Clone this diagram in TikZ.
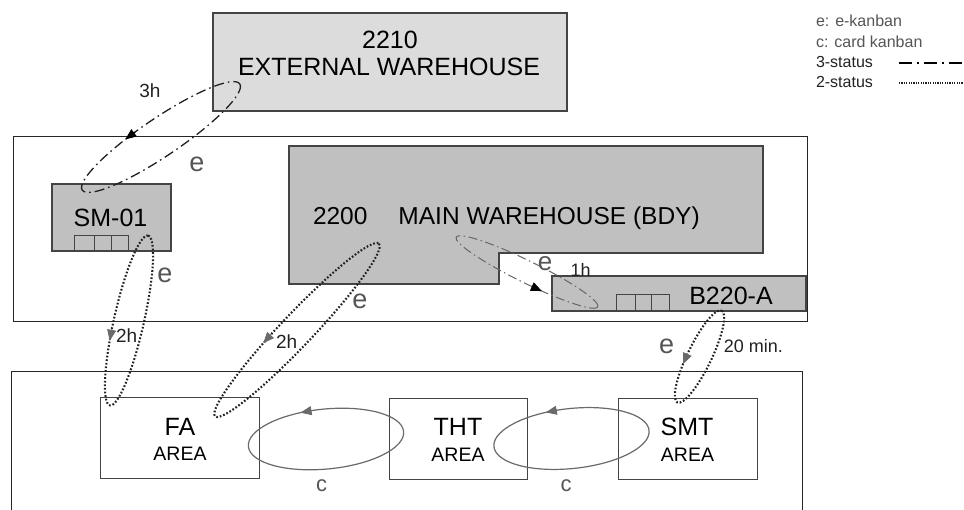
\documentclass[tikz,border=0pt]{standalone}
\usepackage{fontspec}
\setmainfont{Liberation Sans}
\usetikzlibrary{arrows.meta}
\definecolor{boxfill}{HTML}{C0C0C0}
\definecolor{extfill}{HTML}{DCDCDC}
\definecolor{edge}{HTML}{444444}
\definecolor{lbl}{HTML}{555555}
\definecolor{cardcol}{HTML}{6A6A6A}
\definecolor{dark}{HTML}{222222}
\newcommand{\myfs}[1]{\fontsize{#1pt}{#1pt}\selectfont}
\begin{document}
\begin{tikzpicture}[x=1pt,y=-1pt,
 txt/.style={inner sep=0pt, outer sep=0pt},
 outerframe/.style={draw=black!85, line width=0.9pt},
 whbox/.style={draw=edge, line width=1.1pt, fill=boxfill, inner sep=0pt, outer sep=0pt},
 extbox/.style={draw=edge, line width=1.1pt, fill=extfill, inner sep=0pt, outer sep=0pt},
 areabox/.style={draw=edge, line width=1pt, inner sep=0pt, outer sep=0pt},
 cellline/.style={draw=edge, line width=1pt},
 threestat/.style={draw=dark, line width=1.3pt, dash pattern=on 10pt off 4pt on 1.6pt off 4pt},
 threestatlight/.style={draw=black!60, line width=1pt, dash pattern=on 9pt off 3.5pt on 1.5pt off 3.5pt},
 twostat/.style={draw=dark, line width=2.1pt, dash pattern=on 1.7pt off 1.9pt},
 cardloop/.style={draw=cardcol, line width=1.2pt},
 tipblack/.style={draw=black, line width=0.8pt, -{Triangle[length=11pt,width=9pt]}},
 tipgray/.style={draw=cardcol, line width=0.8pt, -{Triangle[length=11pt,width=9pt]}},
 boxtext/.style={txt, anchor=base, font=\myfs{25}},
 areatext/.style={txt, anchor=base, font=\myfs{19.5}},
 elabel/.style={txt, anchor=base, text=lbl, font=\myfs{27}},
 clabel/.style={txt, anchor=base, text=lbl, font=\myfs{22}},
 tlabel/.style={txt, anchor=base, text=dark, font=\myfs{19}},
 legtext/.style={txt, anchor=base west, font=\myfs{16}},
 legdash/.style={draw=black, line width=1.8pt, dash pattern=on 13pt off 5pt on 2pt off 5pt},
 legdot/.style={draw=dark, line width=1.5pt, dash pattern=on 1.2pt off 1.2pt}
]
\useasboundingbox (0,0) rectangle (964,509);
\fill[white] (0,0) rectangle (964,509);

% frames
\draw[outerframe] (13,136) rectangle (807,321);
\draw[outerframe] (11,520) -- (11,371) -- (802,371) -- (802,520);

% external warehouse
\node[extbox, minimum width=354pt, minimum height=98pt] (ext) at (390,62) {};
\node[boxtext] (extnum) at (390,48.5) {2210};
\node[boxtext] (extname) at (389,75) {EXTERNAL WAREHOUSE};

% main warehouse
\draw[whbox] (289,146) -- (763,146) -- (763,253) -- (499,253) -- (499,284) -- (289,284) -- cycle;
\node[txt, anchor=base west, font=\myfs{24.5}] (mainname) at (313,224) {2200\hspace{31pt}MAIN WAREHOUSE (BDY)};

% SM-01
\node[whbox, minimum width=119pt, minimum height=67pt] (sm) at (111.5,217.5) {};
\node[boxtext] (smtext) at (110.5,226.7) {SM-01};
\draw[cellline] (74,235) rectangle (128,251);
\draw[cellline] (94,235) -- (94,251);
\draw[cellline] (111,235) -- (111,251);

% B220-A
\node[whbox, minimum width=254pt, minimum height=35pt] (bloc) at (679,293.5) {};
\node[boxtext] (bloctext) at (731,304.3) {B220-A};
\draw[cellline] (616,294) rectangle (669,311);
\draw[cellline] (635,294) -- (635,311);
\draw[cellline] (651,294) -- (651,311);

% areas
\node[areabox, minimum width=159pt, minimum height=81pt] (fa) at (179.5,437.5) {};
\node[boxtext] (fat) at (180,435) {FA};
\node[areatext] (faa) at (180,460.7) {AREA};
\node[areabox, minimum width=138pt, minimum height=81pt] (tht) at (458,438.5) {};
\node[boxtext] (thtt) at (458,435) {THT};
\node[areatext] (thta) at (458,461.5) {AREA};
\node[areabox, minimum width=139pt, minimum height=81pt] (smt) at (687.5,438.5) {};
\node[boxtext] (smtt) at (687,435) {SMT};
\node[areatext] (smta) at (687.5,461.5) {AREA};

% 3-status loop: external -> SM-01
\begin{scope}[shift={(161,137)}, rotate=34]
 \draw[threestat] (0,0) ellipse [x radius=95, y radius=19];
 \draw[tipblack] ({95*cos(259)},{19*sin(259)}) -- ({95*cos(251)},{19*sin(251)});
\end{scope}
% 3-status loop: main -> B220-A
\begin{scope}[shift={(527,272)}, rotate=-26.2]
 \draw[threestatlight] (0,0) ellipse [x radius=79, y radius=11];
 \draw[tipblack] ({79*cos(82)},{11*sin(82)}) -- ({79*cos(74)},{11*sin(74)});
\end{scope}
% 2-status loop: SM-01 -> FA
\begin{scope}[shift={(129,320.5)}, rotate=77.3]
 \draw[twostat] (0,0) ellipse [x radius=87, y radius=15];
 \draw[tipgray] ({87*cos(262)},{15*sin(262)}) -- ({87*cos(254)},{15*sin(254)});
\end{scope}
% 2-status loop: main -> FA
\begin{scope}[shift={(297,330)}, rotate=46.5]
 \draw[twostat] (0,0) ellipse [x radius=119, y radius=16];
 \draw[tipgray] ({119*cos(260)},{16*sin(260)}) -- ({119*cos(254)},{16*sin(254)});
\end{scope}
% 2-status loop: B220-A -> SMT
\begin{scope}[shift={(699.5,356.5)}, rotate=64.2]
 \draw[twostat] (0,0) ellipse [x radius=51, y radius=12];
 \draw[tipgray] ({51*cos(267)},{12*sin(267)}) -- ({51*cos(254)},{12*sin(254)});
\end{scope}
% card loops
\begin{scope}[shift={(326,439)}, rotate=5.5]
 \draw[cardloop] (0,0) ellipse [x radius=78, y radius=30];
 \draw[tipgray] ({78*cos(262)},{30*sin(262)}) -- ({78*cos(253)},{30*sin(253)});
\end{scope}
\begin{scope}[shift={(571.5,438.5)}, rotate=6]
 \draw[cardloop] (0,0) ellipse [x radius=78, y radius=30];
 \draw[tipgray] ({78*cos(262)},{30*sin(262)}) -- ({78*cos(253)},{30*sin(253)});
\end{scope}

% labels
\node[tlabel] (l3h) at (150,97.3) {3h};
\node[elabel] (le1) at (197,171.7) {e};
\node[elabel] (le2) at (165,282.7) {e};
\node[tlabel] (l2ha) at (126.7,342.7) {2h};
\node[elabel] (le3) at (360,308.3) {e};
\node[tlabel] (l2hb) at (286.7,348.3) {2h};
\node[elabel, font=\myfs{26}] (le4) at (545,270) {e};
\node[tlabel, font=\myfs{18}] (l1h) at (580.7,276) {1h};
\node[elabel] (le5) at (666.7,353.3) {e};
\node[tlabel, font=\myfs{18}] (l20) at (753.3,352.7) {20 min.};
\node[clabel] (lc1) at (321.7,491.7) {c};
\node[clabel] (lc2) at (566,491.7) {c};

% legend
\node[legtext, text=lbl] (lege) at (816,26.7) {e: e-kanban};
\node[legtext, text=lbl] (legc) at (816,47.3) {c: card kanban};
\node[legtext, text=dark] (leg3) at (816,67.3) {3-status};
\node[legtext, text=dark] (leg2) at (816,87.3) {2-status};
\coordinate (ld1) at (899,63);
\coordinate (ld2) at (966,63);
\coordinate (lt1) at (899,83);
\coordinate (lt2) at (966,83);
\draw[legdash] (ld1) -- (ld2);
\draw[legdot] (lt1) -- (lt2);
\end{tikzpicture}
\end{document}
